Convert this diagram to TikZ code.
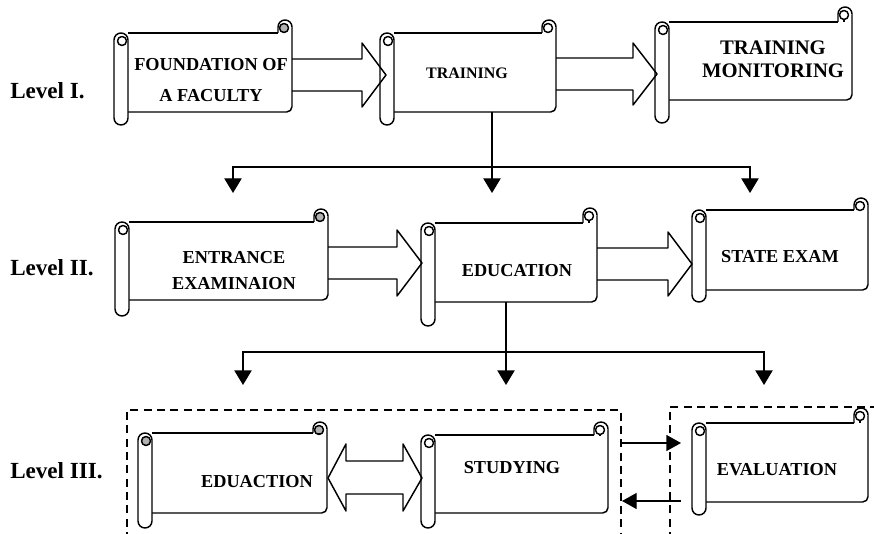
\documentclass[tikz,border=0pt]{standalone}
\usepackage{fontspec}
\setmainfont{Liberation Serif}
\usetikzlibrary{arrows.meta}
\tikzset{
  sline/.style={line width=1.1pt, line join=round},
  conn/.style={line width=1pt},
  tip/.style={-{Triangle[length=11pt,width=13pt]}},
  smalltip/.style={-{Triangle[length=11pt,width=12pt]}},
  boxtxt/.style={font=\bfseries\fontsize{13.7}{20}\selectfont, align=center, inner sep=0pt},
  bigtxt/.style={font=\bfseries\fontsize{15.5}{17}\selectfont, align=center, inner sep=0pt},
  lvl/.style={font=\bfseries\fontsize{17.3}{20}\selectfont, anchor=west, inner sep=0pt},
  dbox/.style={line width=1.2pt, dash pattern=on 6pt off 4pt},
}
% #1 name #2 L #3 T #4 R #5 B #6 body top #7 body bottom #8 left curl fill #9 right curl fill
\newcommand\scrollbox[9]{%
  \fill[white] ({#2+7},{#6}) rectangle ({#4},{#7});
  \draw[sline] ({#2+14},{#6}) -- ({#4-14},{#6});
  \draw[sline, rounded corners=4] ({#2+14},{#7}) -- ({#4},{#7}) -- ({#4},{#3+7});
  \draw[sline, fill=white] ({#4-14},{#6}) -- ({#4-14},{#3+7}) arc[start angle=180, end angle=360, radius=7];
  \draw[sline, fill=#9] ({#4-8},{#3+8}) circle[radius=4.5];
  \draw[sline] ({#4-8},{#3+12.5}) -- ({#4-8},{#6});
  \draw[sline, fill=white] ({#2},{#6+7}) -- ({#2},{#5-7}) arc[start angle=180, end angle=0, radius=7] -- ({#2+14},{#6+7}) arc[start angle=0, end angle=-180, radius=7] -- cycle;
  \draw[sline, fill=#8] ({#2+8},{#6+8}) circle[radius=4.5];
  \coordinate (#1-nw) at ({#2+14},{#6});
  \coordinate (#1-se) at ({#4},{#7});
}
% block arrow: #1 x start, #2 head base x, #3 tip x, #4 y centre, #5 shaft half, #6 head half
\newcommand\blockarrow[6]{%
  \draw[sline] ({#1},{#4-#5}) -- ({#2},{#4-#5}) -- ({#2},{#4-#6}) -- ({#3},{#4}) -- ({#2},{#4+#6}) -- ({#2},{#4+#5}) -- ({#1},{#4+#5});
}
\begin{document}
\begin{tikzpicture}[x=0.75pt,y=-0.75pt]
\path[use as bounding box] (0,0) rectangle (874,534);

% dashed groups
\draw[dbox] (127,540) -- (127,410) -- (621,410) -- (621,540);
\draw[dbox] (670,540) -- (670,407) -- (880,407);

% Level I
\scrollbox{found}{114}{20}{292}{125}{33}{112}{white}{gray!60}
\scrollbox{train}{380}{20}{556}{125}{33}{112}{white}{white}
\scrollbox{monit}{655}{7}{852}{123}{22}{100}{white}{white}
\blockarrow{292}{362}{386}{75}{16}{32}
\blockarrow{556}{633}{657}{74}{16}{31}
\node[boxtxt, font=\bfseries\fontsize{13.7}{23.5}\selectfont] (t-found) at (211,80) {FOUNDATION OF\\A FACULTY};
\node[boxtxt, font=\bfseries\fontsize{12}{14}\selectfont] (t-train) at (467,73) {TRAINING};
\node[bigtxt] (t-monit) at (773,59) {TRAINING\\MONITORING};

% Level II
\scrollbox{entr}{115}{209}{328}{316}{222}{300}{white}{gray!60}
\scrollbox{educ}{421}{208}{597}{326}{223}{302}{white}{white}
\scrollbox{state}{692}{198}{868}{302}{210}{290}{white}{white}
\blockarrow{328}{397}{422}{263}{16}{33}
\blockarrow{597}{668}{692}{264}{16}{32}
\node[boxtxt, font=\bfseries\fontsize{13.7}{19.5}\selectfont] (t-entr) at (234,271) {ENTRANCE\\EXAMINAION};
\node[boxtxt] (t-educ) at (517,271) {EDUCATION};
\node[boxtxt] (t-state) at (780,257) {STATE EXAM};

% Level III
\scrollbox{eduac}{138}{422}{327}{528}{433}{513}{gray!60}{gray!60}
\scrollbox{stud}{421}{422}{608}{528}{435}{513}{white}{white}
\scrollbox{eval}{692}{408}{868}{515}{423}{502}{white}{white}
\draw[sline] (346,461) -- (403,461) -- (403,444) -- (422,478) -- (403,511) -- (403,494) -- (346,494) -- (346,511) -- (328,478) -- (346,444) -- cycle;
\node[boxtxt] (t-eduac) at (257,482) {EDUACTION};
\node[boxtxt] (t-stud) at (512,468) {STUDYING};
\node[boxtxt] (t-eval) at (777,470) {EVALUATION};

% level labels
\node[lvl] (l1) at (10,91) {Level I.};
\node[lvl] (l2) at (10,268) {Level II.};
\node[lvl] (l3) at (10,471) {Level III.};

% connectors level I -> II
\coordinate (s1) at (492,112);
\coordinate (j1) at (492,167);
\coordinate (a1) at (233,193);
\coordinate (a2) at (492,193);
\coordinate (a3) at (750,193);
\draw[conn, tip] (s1) -- (a2);
\draw[conn, tip] (j1) -| (a1);
\draw[conn, tip] (j1) -| (a3);

% connectors level II -> III
\coordinate (s2) at (506,302);
\coordinate (j2) at (506,352);
\coordinate (b1) at (243,385);
\coordinate (b2) at (506,385);
\coordinate (b3) at (764,385);
\draw[conn, tip] (s2) -- (b2);
\draw[conn, tip] (j2) -| (b1);
\draw[conn, tip] (j2) -| (b3);

% level III connectors
\coordinate (c1) at (621,443);
\coordinate (c2) at (681,443);
\coordinate (c3) at (681,501);
\coordinate (c4) at (622,501);
\draw[conn, smalltip] (c1) -- (c2);
\draw[conn, smalltip] (c3) -- (c4);
\end{tikzpicture}
\end{document}
